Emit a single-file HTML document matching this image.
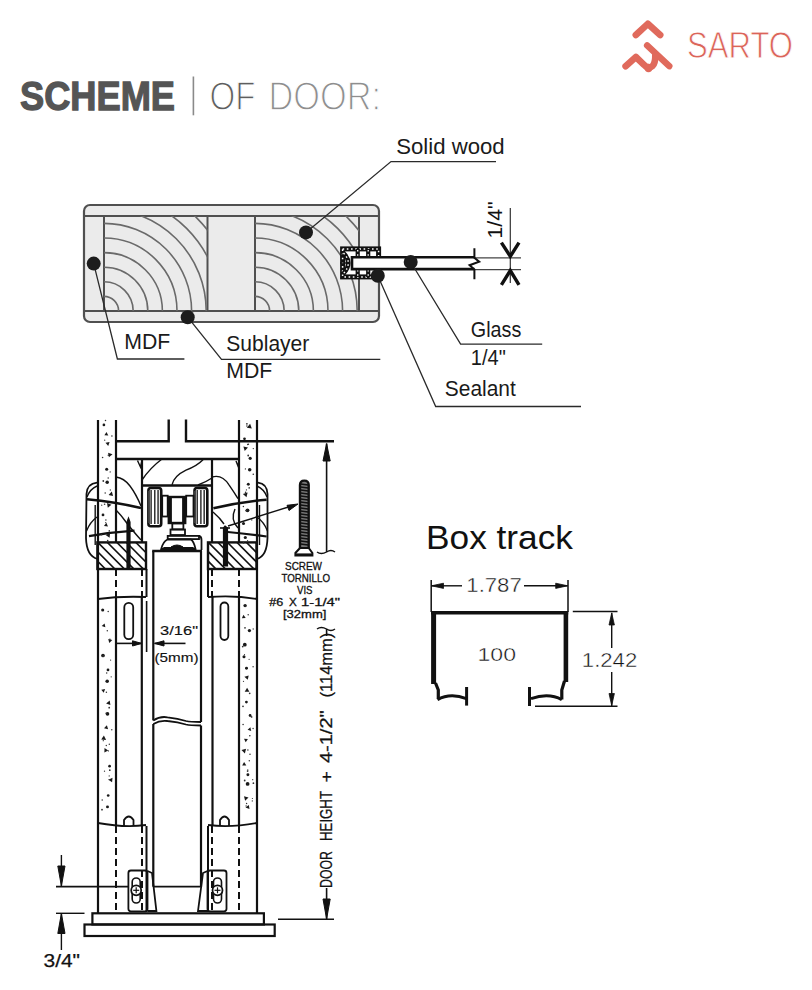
<!DOCTYPE html>
<html><head><meta charset="utf-8">
<style>
html,body{margin:0;padding:0;background:#fff;}
body{width:812px;height:990px;overflow:hidden;position:relative;}
svg{position:absolute;left:0;top:0;font-family:"Liberation Sans", sans-serif;}
</style></head><body>
<svg width="812" height="990" viewBox="0 0 812 990">
<text x="20" y="110.0" font-size="41.2" fill="#555" font-weight="bold" textLength="155" lengthAdjust="spacingAndGlyphs" stroke="#555" stroke-width="1.3">SCHEME</text>
<line x1="193.4" y1="76.5" x2="193.4" y2="115.3" stroke="#8a8a8a" stroke-width="1.6" />
<text x="209.5" y="110.3" font-size="41" fill="#5e5e5e" font-weight="normal" textLength="46" lengthAdjust="spacingAndGlyphs" stroke="#fff" stroke-width="1.3">OF</text>
<text x="268.5" y="110.3" font-size="41" fill="#8e8e8e" font-weight="normal" textLength="112.5" lengthAdjust="spacingAndGlyphs" stroke="#fff" stroke-width="1.3">DOOR:</text>
<path d="M635.8,35 L647.8,23.8 L660.2,35" stroke="#e06a5c" stroke-width="6.6" fill="none" stroke-linecap="round" stroke-linejoin="round"/>
<circle cx="648.5" cy="68" r="4.2" fill="#e06a5c" stroke="none" stroke-width="0"/>
<path d="M625.6,66.2 L635.9,57 L644,64.8 Q648.5,69.5 652.5,66 Q655.5,63 655.3,55" stroke="#e06a5c" stroke-width="6.6" fill="none" stroke-linecap="round" stroke-linejoin="round"/>
<path d="M647.1,45.4 L669.3,66.2" stroke="#e06a5c" stroke-width="6.4" fill="none" stroke-linecap="round" stroke-linejoin="round"/>
<text x="687" y="58.2" font-size="37.5" fill="#db6459" font-weight="normal" textLength="106" lengthAdjust="spacingAndGlyphs" stroke="#fff" stroke-width="0.9">SARTO</text>
<defs><clipPath id="cb1"><rect x="104" y="216" width="103.5" height="95"/></clipPath><clipPath id="cb2"><rect x="255" y="216" width="104" height="95"/></clipPath></defs>
<rect x="84" y="205" width="295" height="117" rx="6" stroke="#505050" stroke-width="2.2" fill="#ebebeb" />
<line x1="84" y1="216" x2="379" y2="216" stroke="#505050" stroke-width="2" />
<line x1="84" y1="311" x2="379" y2="311" stroke="#505050" stroke-width="2" />
<line x1="104" y1="216" x2="104" y2="311" stroke="#505050" stroke-width="2" />
<line x1="207.5" y1="216" x2="207.5" y2="311" stroke="#505050" stroke-width="2" />
<line x1="255" y1="216" x2="255" y2="311" stroke="#505050" stroke-width="2" />
<line x1="359" y1="216" x2="359" y2="311" stroke="#505050" stroke-width="2" />
<g clip-path="url(#cb1)"><path d="M104,296.4 A14.6,14.6 0 0 1 118.6,311" stroke="#6a6a6a" stroke-width="1.6" fill="none"/><path d="M104,281.8 A29.2,29.2 0 0 1 133.2,311" stroke="#6a6a6a" stroke-width="1.6" fill="none"/><path d="M104,267.2 A43.8,43.8 0 0 1 147.8,311" stroke="#6a6a6a" stroke-width="1.6" fill="none"/><path d="M104,252.6 A58.4,58.4 0 0 1 162.4,311" stroke="#6a6a6a" stroke-width="1.6" fill="none"/><path d="M104,238.0 A73.0,73.0 0 0 1 177.0,311" stroke="#6a6a6a" stroke-width="1.6" fill="none"/><path d="M104,223.4 A87.6,87.6 0 0 1 191.6,311" stroke="#6a6a6a" stroke-width="1.6" fill="none"/><path d="M104,208.8 A102.2,102.2 0 0 1 206.2,311" stroke="#6a6a6a" stroke-width="1.6" fill="none"/><path d="M104,194.2 A116.8,116.8 0 0 1 220.8,311" stroke="#6a6a6a" stroke-width="1.6" fill="none"/><path d="M104,179.6 A131.4,131.4 0 0 1 235.4,311" stroke="#6a6a6a" stroke-width="1.6" fill="none"/><path d="M104,165.0 A146.0,146.0 0 0 1 250.0,311" stroke="#6a6a6a" stroke-width="1.6" fill="none"/><path d="M104,150.4 A160.6,160.6 0 0 1 264.6,311" stroke="#6a6a6a" stroke-width="1.6" fill="none"/></g>
<g clip-path="url(#cb2)"><path d="M255,296.4 A14.6,14.6 0 0 1 269.6,311" stroke="#6a6a6a" stroke-width="1.6" fill="none"/><path d="M255,281.8 A29.2,29.2 0 0 1 284.2,311" stroke="#6a6a6a" stroke-width="1.6" fill="none"/><path d="M255,267.2 A43.8,43.8 0 0 1 298.8,311" stroke="#6a6a6a" stroke-width="1.6" fill="none"/><path d="M255,252.6 A58.4,58.4 0 0 1 313.4,311" stroke="#6a6a6a" stroke-width="1.6" fill="none"/><path d="M255,238.0 A73.0,73.0 0 0 1 328.0,311" stroke="#6a6a6a" stroke-width="1.6" fill="none"/><path d="M255,223.4 A87.6,87.6 0 0 1 342.6,311" stroke="#6a6a6a" stroke-width="1.6" fill="none"/><path d="M255,208.8 A102.2,102.2 0 0 1 357.2,311" stroke="#6a6a6a" stroke-width="1.6" fill="none"/><path d="M255,194.2 A116.8,116.8 0 0 1 371.8,311" stroke="#6a6a6a" stroke-width="1.6" fill="none"/><path d="M255,179.6 A131.4,131.4 0 0 1 386.4,311" stroke="#6a6a6a" stroke-width="1.6" fill="none"/><path d="M255,165.0 A146.0,146.0 0 0 1 401.0,311" stroke="#6a6a6a" stroke-width="1.6" fill="none"/><path d="M255,150.4 A160.6,160.6 0 0 1 415.6,311" stroke="#6a6a6a" stroke-width="1.6" fill="none"/></g>
<rect x="342.6" y="248.9" width="36" height="28" rx="0" stroke="#111" stroke-width="5" fill="#fff" />
<rect x="342.6" y="248.9" width="36" height="28" rx="0" stroke="#fff" stroke-width="1.5" fill="none" stroke-dasharray="1.6,2.6"/>
<line x1="357.7" y1="249" x2="357.7" y2="257" stroke="#111" stroke-width="4.2" />
<line x1="357.7" y1="250" x2="357.7" y2="257" stroke="#fff" stroke-width="1.3" stroke-dasharray="1.6,2.6"/>
<line x1="357.7" y1="269" x2="357.7" y2="277" stroke="#111" stroke-width="4.2" />
<line x1="357.7" y1="270" x2="357.7" y2="277" stroke="#fff" stroke-width="1.3" stroke-dasharray="1.6,2.6"/>
<line x1="368.2" y1="249" x2="368.2" y2="257" stroke="#111" stroke-width="4.2" />
<line x1="368.2" y1="250" x2="368.2" y2="257" stroke="#fff" stroke-width="1.3" stroke-dasharray="1.6,2.6"/>
<line x1="368.2" y1="269" x2="368.2" y2="277" stroke="#111" stroke-width="4.2" />
<line x1="368.2" y1="270" x2="368.2" y2="277" stroke="#fff" stroke-width="1.3" stroke-dasharray="1.6,2.6"/>
<path d="M343.5,253 Q353,263 343.5,273.5" stroke="#111" stroke-width="4.5" fill="none" />
<path d="M343.5,253 Q353,263 343.5,273.5" stroke="#fff" stroke-width="1.4" fill="none" stroke-dasharray="1.6,2.6"/>
<line x1="340" y1="263" x2="346" y2="263" stroke="#111" stroke-width="1.4" />
<rect x="352" y="257.3" width="122.2" height="11.8" rx="0" stroke="none" stroke-width="0" fill="#fff" />
<polyline points="474.4,257.3 352,257.3 352,269.1 474.4,269.1" stroke="#111" stroke-width="2.6" fill="none" />
<line x1="474" y1="257.9" x2="521" y2="257.9" stroke="#444" stroke-width="1.2" />
<line x1="474" y1="269.7" x2="521" y2="269.7" stroke="#444" stroke-width="1.2" />
<polyline points="474.4,248.2 474.4,257.7 479.2,261.7 469.6,265.2 474.4,269.5 474.4,279.2" stroke="#111" stroke-width="2" fill="none" />
<line x1="510.3" y1="208" x2="510.3" y2="283" stroke="#333" stroke-width="1.2" />
<polyline points="501.4,242.6 510.3,256.4 519,242.6" stroke="#111" stroke-width="3.4" fill="none" />
<polyline points="501.4,284.8 510.3,270.5 519,284.8" stroke="#111" stroke-width="3.4" fill="none" />
<text x="0" y="0" font-size="21" fill="#111" font-weight="normal" textLength="37" lengthAdjust="spacingAndGlyphs" transform="translate(501.5,238.5) rotate(-90)">1/4&quot;</text>
<polyline points="306,232.4 391,161.6 496,161.6" stroke="#2a2a2a" stroke-width="1.3" fill="none" />
<polyline points="93.7,263.6 117.4,359 184.4,359" stroke="#2a2a2a" stroke-width="1.3" fill="none" />
<polyline points="187.7,317.2 221.5,359.3 380.3,359.3" stroke="#2a2a2a" stroke-width="1.3" fill="none" />
<polyline points="410.7,262 460.6,344.2 542.2,344.2" stroke="#2a2a2a" stroke-width="1.3" fill="none" />
<polyline points="377.8,275.7 435.7,406.5 581,406.5" stroke="#2a2a2a" stroke-width="1.3" fill="none" />
<circle cx="93.7" cy="263.6" r="7" fill="#1c1c1c" stroke="none" stroke-width="0"/>
<circle cx="187.7" cy="317.2" r="7" fill="#1c1c1c" stroke="none" stroke-width="0"/>
<circle cx="306" cy="232.4" r="7" fill="#1c1c1c" stroke="none" stroke-width="0"/>
<circle cx="377.8" cy="275.7" r="7" fill="#1c1c1c" stroke="none" stroke-width="0"/>
<circle cx="410.7" cy="262" r="7" fill="#1c1c1c" stroke="none" stroke-width="0"/>
<text x="396.2" y="153.5" font-size="22.8" fill="#1a1a1a" font-weight="normal" textLength="108.5" lengthAdjust="spacingAndGlyphs" >Solid wood</text>
<text x="124.3" y="349.2" font-size="22.8" fill="#1a1a1a" font-weight="normal" textLength="46" lengthAdjust="spacingAndGlyphs" >MDF</text>
<text x="226.3" y="351.4" font-size="22.8" fill="#1a1a1a" font-weight="normal" textLength="83" lengthAdjust="spacingAndGlyphs" >Sublayer</text>
<text x="226.3" y="377.7" font-size="22.8" fill="#1a1a1a" font-weight="normal" textLength="46" lengthAdjust="spacingAndGlyphs" >MDF</text>
<text x="470.8" y="336.6" font-size="22.8" fill="#1a1a1a" font-weight="normal" textLength="50.5" lengthAdjust="spacingAndGlyphs" >Glass</text>
<text x="470.8" y="365" font-size="22.8" fill="#1a1a1a" font-weight="normal" textLength="35" lengthAdjust="spacingAndGlyphs" >1/4&quot;</text>
<text x="444.8" y="396" font-size="22.8" fill="#1a1a1a" font-weight="normal" textLength="71" lengthAdjust="spacingAndGlyphs" >Sealant</text>
<text x="426" y="548.7" font-size="33.5" fill="#111" font-weight="normal" textLength="147" lengthAdjust="spacingAndGlyphs" >Box track</text>
<line x1="431.2" y1="580" x2="431.2" y2="612" stroke="#111" stroke-width="1.5" />
<line x1="568" y1="580" x2="568" y2="612" stroke="#111" stroke-width="1.5" />
<line x1="431" y1="585.8" x2="462" y2="585.8" stroke="#111" stroke-width="1.4" />
<line x1="524" y1="585.8" x2="567.5" y2="585.8" stroke="#111" stroke-width="1.4" />
<path d="M431.5,585.8 L443.5,583.2 L443.5,588.4 Z" stroke="#111" stroke-width="0.8" fill="#111" />
<path d="M567.7,585.8 L555.7,583.2 L555.7,588.4 Z" stroke="#111" stroke-width="0.8" fill="#111" />
<text x="466.3" y="592" font-size="19.3" fill="#111" font-weight="normal" textLength="55.5" lengthAdjust="spacingAndGlyphs" stroke="#fff" stroke-width="0.4">1.787</text>
<line x1="431" y1="612.8" x2="568.2" y2="612.8" stroke="#111" stroke-width="3.6" />
<line x1="433.6" y1="611" x2="433.6" y2="684" stroke="#111" stroke-width="5" />
<line x1="565.9" y1="611" x2="565.9" y2="682" stroke="#111" stroke-width="4.6" />
<path d="M435.5,683 L438.3,690 L438.3,699" stroke="#111" stroke-width="3.2" fill="none" />
<path d="M564.5,681 L561.8,690 L561.8,699.5" stroke="#111" stroke-width="3.2" fill="none" />
<path d="M437.5,699.8 Q450,692.5 466.4,698.6" stroke="#111" stroke-width="3" fill="none" />
<path d="M561.8,699.8 Q549,692.5 531,698.6" stroke="#111" stroke-width="3" fill="none" />
<line x1="466.6" y1="687" x2="466.6" y2="705.6" stroke="#111" stroke-width="3" />
<line x1="529.5" y1="687" x2="529.5" y2="706" stroke="#111" stroke-width="3" />
<text x="477.5" y="660.7" font-size="19" fill="#111" font-weight="normal" textLength="38.5" lengthAdjust="spacingAndGlyphs" stroke="#fff" stroke-width="0.4">100</text>
<line x1="572.8" y1="611.5" x2="617.5" y2="611.5" stroke="#111" stroke-width="1.5" />
<line x1="535" y1="706.2" x2="617.5" y2="706.2" stroke="#111" stroke-width="1.5" />
<line x1="611.7" y1="612.7" x2="611.7" y2="648" stroke="#111" stroke-width="1.4" />
<line x1="611.7" y1="672" x2="611.7" y2="706" stroke="#111" stroke-width="1.4" />
<path d="M611.7,613 L609,625 L614.4,625 Z" stroke="#111" stroke-width="0.8" fill="#111" />
<path d="M611.7,705.5 L609,693.5 L614.4,693.5 Z" stroke="#111" stroke-width="0.8" fill="#111" />
<text x="581.8" y="667" font-size="19.3" fill="#111" font-weight="normal" textLength="55.5" lengthAdjust="spacingAndGlyphs" stroke="#fff" stroke-width="0.4">1.242</text>
<line x1="98" y1="420" x2="98" y2="913" stroke="#111" stroke-width="2.2" />
<line x1="257" y1="420" x2="257" y2="913" stroke="#111" stroke-width="2.2" />
<line x1="116" y1="420" x2="116" y2="542" stroke="#111" stroke-width="2.2" />
<line x1="239" y1="420" x2="239" y2="542" stroke="#111" stroke-width="2.2" />
<line x1="116" y1="597" x2="116" y2="826" stroke="#111" stroke-width="2.2" />
<line x1="239" y1="597" x2="239" y2="826" stroke="#111" stroke-width="2.2" />
<line x1="116" y1="569" x2="116" y2="597" stroke="#111" stroke-width="2" stroke-dasharray="7,4"/>
<line x1="142" y1="569" x2="142" y2="597" stroke="#111" stroke-width="2" stroke-dasharray="7,4"/>
<line x1="212" y1="569" x2="212" y2="597" stroke="#111" stroke-width="2" stroke-dasharray="7,4"/>
<line x1="239" y1="569" x2="239" y2="597" stroke="#111" stroke-width="2" stroke-dasharray="7,4"/>
<line x1="116" y1="826" x2="116" y2="912" stroke="#111" stroke-width="2" stroke-dasharray="7,4"/>
<line x1="142" y1="826" x2="142" y2="912" stroke="#111" stroke-width="2" stroke-dasharray="7,4"/>
<line x1="212" y1="826" x2="212" y2="912" stroke="#111" stroke-width="2" stroke-dasharray="7,4"/>
<line x1="239" y1="826" x2="239" y2="912" stroke="#111" stroke-width="2" stroke-dasharray="7,4"/>
<line x1="141.8" y1="597" x2="141.8" y2="826" stroke="#111" stroke-width="2.2" />
<line x1="212.5" y1="597" x2="212.5" y2="826" stroke="#111" stroke-width="2.2" />
<line x1="146.5" y1="569" x2="146.5" y2="597" stroke="#111" stroke-width="2" />
<line x1="208" y1="569" x2="208" y2="597" stroke="#111" stroke-width="2" />
<line x1="146.5" y1="826" x2="146.5" y2="912" stroke="#111" stroke-width="2" />
<line x1="208" y1="826" x2="208" y2="912" stroke="#111" stroke-width="2" />
<line x1="146.6" y1="601" x2="146.6" y2="652" stroke="#111" stroke-width="1.6" />
<polyline points="116,441.3 168.7,441.3 168.7,419.6" stroke="#111" stroke-width="2.4" fill="none" />
<polyline points="186,419.6 186,441.3 334,441.3" stroke="#111" stroke-width="2.4" fill="none" />
<line x1="116" y1="459" x2="239" y2="459" stroke="#111" stroke-width="2.4" />
<line x1="142" y1="459" x2="142" y2="542" stroke="#111" stroke-width="2.2" />
<line x1="212" y1="459" x2="212" y2="542" stroke="#111" stroke-width="2.2" />
<line x1="142" y1="485.5" x2="212" y2="485.5" stroke="#111" stroke-width="2.4" />
<defs><clipPath id="hb1"><rect x="97.4" y="542.4" width="48.6" height="26.6"/></clipPath><clipPath id="hb2"><rect x="208" y="542.4" width="48.5" height="26.6"/></clipPath></defs>
<g clip-path="url(#hb1)"><line x1="59.400000000000006" y1="542" x2="87.4" y2="570" stroke="#111" stroke-width="1.6"/><line x1="68.9" y1="542" x2="96.9" y2="570" stroke="#111" stroke-width="1.6"/><line x1="78.4" y1="542" x2="106.4" y2="570" stroke="#111" stroke-width="1.6"/><line x1="87.9" y1="542" x2="115.9" y2="570" stroke="#111" stroke-width="1.6"/><line x1="97.4" y1="542" x2="125.4" y2="570" stroke="#111" stroke-width="1.6"/><line x1="106.9" y1="542" x2="134.9" y2="570" stroke="#111" stroke-width="1.6"/><line x1="116.4" y1="542" x2="144.4" y2="570" stroke="#111" stroke-width="1.6"/><line x1="125.9" y1="542" x2="153.9" y2="570" stroke="#111" stroke-width="1.6"/><line x1="135.4" y1="542" x2="163.4" y2="570" stroke="#111" stroke-width="1.6"/><line x1="144.9" y1="542" x2="172.9" y2="570" stroke="#111" stroke-width="1.6"/><line x1="154.4" y1="542" x2="182.4" y2="570" stroke="#111" stroke-width="1.6"/><line x1="163.9" y1="542" x2="191.9" y2="570" stroke="#111" stroke-width="1.6"/><line x1="173.4" y1="542" x2="201.4" y2="570" stroke="#111" stroke-width="1.6"/><line x1="182.9" y1="542" x2="210.9" y2="570" stroke="#111" stroke-width="1.6"/></g>
<rect x="97.4" y="542.4" width="48.599999999999994" height="26.6" rx="0" stroke="#111" stroke-width="2.4" fill="none" />
<g clip-path="url(#hb2)"><line x1="170.0" y1="542" x2="198.0" y2="570" stroke="#111" stroke-width="1.6"/><line x1="179.5" y1="542" x2="207.5" y2="570" stroke="#111" stroke-width="1.6"/><line x1="189.0" y1="542" x2="217.0" y2="570" stroke="#111" stroke-width="1.6"/><line x1="198.5" y1="542" x2="226.5" y2="570" stroke="#111" stroke-width="1.6"/><line x1="208.0" y1="542" x2="236.0" y2="570" stroke="#111" stroke-width="1.6"/><line x1="217.5" y1="542" x2="245.5" y2="570" stroke="#111" stroke-width="1.6"/><line x1="227.0" y1="542" x2="255.0" y2="570" stroke="#111" stroke-width="1.6"/><line x1="236.5" y1="542" x2="264.5" y2="570" stroke="#111" stroke-width="1.6"/><line x1="246.0" y1="542" x2="274.0" y2="570" stroke="#111" stroke-width="1.6"/><line x1="255.5" y1="542" x2="283.5" y2="570" stroke="#111" stroke-width="1.6"/><line x1="265.0" y1="542" x2="293.0" y2="570" stroke="#111" stroke-width="1.6"/><line x1="274.5" y1="542" x2="302.5" y2="570" stroke="#111" stroke-width="1.6"/><line x1="284.0" y1="542" x2="312.0" y2="570" stroke="#111" stroke-width="1.6"/><line x1="293.5" y1="542" x2="321.5" y2="570" stroke="#111" stroke-width="1.6"/></g>
<rect x="208" y="542.4" width="48.5" height="26.6" rx="0" stroke="#111" stroke-width="2.4" fill="none" />
<path d="M128.5,518 L130,522 L130,568 L127,568 L127,522 Z" stroke="#111" stroke-width="1.2" fill="#111" />
<path d="M225,526 L227.5,528 L227.5,566 L223.5,566 L223.5,528 Z" stroke="#111" stroke-width="1.2" fill="#111" />
<line x1="220" y1="528" x2="230" y2="528" stroke="#111" stroke-width="1.6" />
<path d="M97,482.6 Q87,483.5 86.5,494 L86,538 Q86.5,556 97.5,559" stroke="#111" stroke-width="1.8" fill="none" />
<path d="M87,497 Q90,489 97,486" stroke="#111" stroke-width="1.4" fill="none" />
<path d="M86.5,531 Q90,522 97,517" stroke="#111" stroke-width="1.4" fill="none" />
<line x1="95.2" y1="505" x2="95.2" y2="545" stroke="#111" stroke-width="1.4" />
<path d="M258,482.6 Q267,483.5 267.5,494 L267.5,538 Q267,556 257,559" stroke="#111" stroke-width="1.8" fill="none" />
<path d="M267,497 Q264,489 257,486" stroke="#111" stroke-width="1.4" fill="none" />
<path d="M267.5,531 Q264,522 257,517" stroke="#111" stroke-width="1.4" fill="none" />
<line x1="259.5" y1="505" x2="259.5" y2="545" stroke="#111" stroke-width="1.4" />
<path d="M87,499.3 Q115,502 141,508" stroke="#111" stroke-width="2.6" fill="none" />
<path d="M89,536.2 Q112,532 134.5,530.6" stroke="#111" stroke-width="2.2" fill="none" />
<path d="M213.4,508.3 Q240,502 266.6,499.7" stroke="#111" stroke-width="2.6" fill="none" />
<path d="M227.8,532 Q248,534 266.6,536.5" stroke="#111" stroke-width="2.2" fill="none" />
<path d="M142,480 Q150,468 162,459" stroke="#111" stroke-width="1.4" fill="none" />
<path d="M172,484.8 Q174,476 186,470.2 Q197,466 203,459.8" stroke="#111" stroke-width="1.4" fill="none" />
<path d="M198,485 Q206,482 212,478" stroke="#111" stroke-width="1.4" fill="none" />
<path d="M116,477 Q124,478 130,486 Q136,494 141,506" stroke="#111" stroke-width="1.4" fill="none" />
<path d="M212,477 Q222,474 229,484.8 Q234,492 238,498.6" stroke="#111" stroke-width="1.4" fill="none" />
<path d="M116,510 Q121,515 126,522 Q132,530 141,540" stroke="#111" stroke-width="1.4" fill="none" />
<path d="M213,512 Q220,518 224,524" stroke="#111" stroke-width="1.4" fill="none" />
<path d="M235,509 Q230,520 238,528" stroke="#111" stroke-width="1.4" fill="none" />
<path d="M137.5,460.5 L140.5,467 L142,460.5" stroke="#111" stroke-width="1.4" fill="none" />
<path d="M236,461 L238,466 L239,461" stroke="#111" stroke-width="1.4" fill="none" />
<rect x="148.4" y="488" width="12.799999999999983" height="38.2" rx="2.5" stroke="#111" stroke-width="2.6" fill="none" />
<line x1="151.1" y1="490" x2="151.1" y2="524" stroke="#111" stroke-width="1.3" />
<line x1="154.8" y1="490" x2="154.8" y2="524" stroke="#111" stroke-width="1.3" />
<line x1="158.05599999999998" y1="490" x2="158.05599999999998" y2="524" stroke="#111" stroke-width="1.3" />
<line x1="148.9" y1="491" x2="148.9" y2="523" stroke="#444" stroke-width="1.6" />
<rect x="194.5" y="488" width="12.800000000000011" height="38.2" rx="2.5" stroke="#111" stroke-width="2.6" fill="none" />
<line x1="197.2" y1="490" x2="197.2" y2="524" stroke="#111" stroke-width="1.3" />
<line x1="200.9" y1="490" x2="200.9" y2="524" stroke="#111" stroke-width="1.3" />
<line x1="204.156" y1="490" x2="204.156" y2="524" stroke="#111" stroke-width="1.3" />
<line x1="195.0" y1="491" x2="195.0" y2="523" stroke="#444" stroke-width="1.6" />
<rect x="162.2" y="495.7" width="5.5" height="20.8" rx="0" stroke="#111" stroke-width="1.8" fill="none" />
<rect x="186.2" y="495.7" width="7.3" height="20.8" rx="0" stroke="#111" stroke-width="1.8" fill="none" />
<rect x="168.8" y="497" width="16.4" height="26" rx="0" stroke="#111" stroke-width="2.4" fill="none" />
<line x1="170.5" y1="498" x2="170.5" y2="522" stroke="#111" stroke-width="2.8" />
<line x1="183.5" y1="498" x2="183.5" y2="522" stroke="#111" stroke-width="2.8" />
<rect x="172.3" y="523.4" width="11.1" height="6" rx="0" stroke="#111" stroke-width="1.8" fill="none" />
<rect x="170.5" y="529.5" width="14.5" height="5.5" rx="0" stroke="#111" stroke-width="1.8" fill="none" />
<rect x="167.7" y="535.9" width="31.3" height="3.2" rx="0" stroke="#111" stroke-width="1.8" fill="none" />
<path d="M199,536 Q201.5,536.5 201.5,540 L201.5,550" stroke="#111" stroke-width="1.8" fill="none" />
<path d="M161.2,549 Q163,541.5 167.5,539.5 L191,539.5 Q194,541.5 195.5,549 Z" stroke="#111" stroke-width="1.8" fill="none" />
<rect x="163" y="547" width="31" height="2.6" rx="1.2" stroke="none" stroke-width="0" fill="#111" />
<path d="M171,547 Q177,543 183,547 Z" stroke="#111" stroke-width="1" fill="#111" />
<line x1="153.3" y1="551" x2="153.3" y2="720.4" stroke="#111" stroke-width="2.2" />
<line x1="201" y1="551" x2="201" y2="722" stroke="#111" stroke-width="2.2" />
<line x1="153.3" y1="724" x2="153.3" y2="886.7" stroke="#111" stroke-width="2.2" />
<line x1="201" y1="725.5" x2="201" y2="886.7" stroke="#111" stroke-width="2.2" />
<line x1="152.2" y1="551" x2="202" y2="551" stroke="#111" stroke-width="2.6" />
<path d="M153.3,720.4 Q160,716 167.5,717.3 Q178,718.5 186,721 Q190,722 201,722" stroke="#111" stroke-width="1.8" fill="none" />
<path d="M153.3,724 Q160,720 167.5,721 Q178,722 186,724.5 Q190,725.5 201,725.5" stroke="#111" stroke-width="1.8" fill="none" />
<rect x="124.3" y="602.8" width="8.9" height="36.4" rx="4.4" stroke="#111" stroke-width="1.8" fill="none" />
<rect x="220.5" y="602.5" width="7.8" height="37.5" rx="3.9" stroke="#111" stroke-width="1.8" fill="none" />
<path d="M98,599 Q120,596 146,597" stroke="#111" stroke-width="1.8" fill="none" />
<path d="M208,597 Q235,595 257,599" stroke="#111" stroke-width="1.8" fill="none" />
<path d="M98,823 Q125,828 146,825" stroke="#111" stroke-width="1.8" fill="none" />
<path d="M208,825 Q230,828 257,823" stroke="#111" stroke-width="1.8" fill="none" />
<path d="M124,826 L124,820 Q128.8,813 133.5,820 L133.5,826" stroke="#111" stroke-width="1.8" fill="none" />
<path d="M220,826 L220,820 Q224.5,813 229,820 L229,826" stroke="#111" stroke-width="1.8" fill="none" />
<line x1="116" y1="643.4" x2="141.7" y2="643.4" stroke="#111" stroke-width="1.6" />
<path d="M141.7,643.4 L132.5,640.8 L132.5,646 Z" stroke="#111" stroke-width="1" fill="#111" />
<line x1="154.6" y1="643.4" x2="185.5" y2="643.4" stroke="#111" stroke-width="1.6" />
<path d="M154.6,643.4 L164,640.8 L164,646 Z" stroke="#111" stroke-width="1" fill="#111" />
<text x="160" y="635.3" font-size="13.5" fill="#111" font-weight="normal" textLength="38" lengthAdjust="spacingAndGlyphs" stroke="#111" stroke-width="0.15">3/16&quot;</text>
<text x="154.5" y="661.9" font-size="13.5" fill="#111" font-weight="normal" textLength="44" lengthAdjust="spacingAndGlyphs" stroke="#111" stroke-width="0.15">(5mm)</text>
<line x1="56" y1="886.7" x2="128" y2="886.7" stroke="#111" stroke-width="1.8" />
<line x1="153" y1="886.7" x2="202" y2="886.7" stroke="#111" stroke-width="1.8" />
<rect x="92.4" y="913.3" width="171.5" height="11.2" rx="0" stroke="#111" stroke-width="2.2" fill="none" />
<rect x="84.5" y="924.5" width="190.2" height="11.5" rx="0" stroke="#111" stroke-width="2.2" fill="none" />
<rect x="128.4" y="870.5" width="19.1" height="40.8" rx="2.5" stroke="#111" stroke-width="1.8" fill="none" />
<path d="M147.5,871 L152,873 L156.4,911 L147.5,911" stroke="#111" stroke-width="1.8" fill="none" />
<rect x="207.5" y="870.5" width="19" height="40.8" rx="2.5" stroke="#111" stroke-width="1.8" fill="none" />
<path d="M207.5,871 L203,873 L198,911 L207.5,911" stroke="#111" stroke-width="1.8" fill="none" />
<rect x="132.2" y="878" width="8" height="25" rx="4" stroke="#111" stroke-width="1.6" fill="none" />
<circle cx="136.2" cy="890.3" r="5" fill="#fff" stroke="#111" stroke-width="1.8"/>
<line x1="133.2" y1="890.3" x2="139.2" y2="890.3" stroke="#111" stroke-width="1.2" />
<line x1="136.2" y1="887.3" x2="136.2" y2="893.3" stroke="#111" stroke-width="1.2" />
<rect x="213.5" y="878" width="8" height="25" rx="4" stroke="#111" stroke-width="1.6" fill="none" />
<circle cx="217.5" cy="890.3" r="5" fill="#fff" stroke="#111" stroke-width="1.8"/>
<line x1="214.5" y1="890.3" x2="220.5" y2="890.3" stroke="#111" stroke-width="1.2" />
<line x1="217.5" y1="887.3" x2="217.5" y2="893.3" stroke="#111" stroke-width="1.2" />
<line x1="61.4" y1="855" x2="61.4" y2="886" stroke="#111" stroke-width="1.4" />
<path d="M61.4,886 L57.8,866 L65,866 Z" stroke="#111" stroke-width="1" fill="#111" />
<line x1="56" y1="913.3" x2="84.5" y2="913.3" stroke="#111" stroke-width="1.4" />
<line x1="61.4" y1="913.3" x2="61.4" y2="950" stroke="#111" stroke-width="1.4" />
<path d="M61.4,913.5 L57.8,933.5 L65,933.5 Z" stroke="#111" stroke-width="1" fill="#111" />
<text x="43.5" y="966.5" font-size="17.5" fill="#111" font-weight="normal" textLength="36.5" lengthAdjust="spacingAndGlyphs" stroke="#111" stroke-width="0.25">3/4&quot;</text>
<line x1="326.6" y1="443.6" x2="326.6" y2="552" stroke="#111" stroke-width="1.6" />
<path d="M326.6,443.6 L323,461 L330.2,461 Z" stroke="#111" stroke-width="1" fill="#111" />
<path d="M317,552 Q321,555 326.6,552 Q331,549 335,552" stroke="#111" stroke-width="1.4" fill="none" />
<path d="M317,629 Q321,626 326.6,629 Q331,632 335,629" stroke="#111" stroke-width="1.4" fill="none" />
<line x1="326.6" y1="629" x2="326.6" y2="636" stroke="#111" stroke-width="1.6" />
<line x1="326.6" y1="888" x2="326.6" y2="919" stroke="#111" stroke-width="1.6" />
<path d="M326.6,919 L323,899 L330.2,899 Z" stroke="#111" stroke-width="1" fill="#111" />
<line x1="278" y1="919.2" x2="334" y2="919.2" stroke="#111" stroke-width="1.6" />
<text x="0" y="0" font-size="16" fill="#111" font-weight="normal" textLength="37" lengthAdjust="spacingAndGlyphs" stroke="#111" stroke-width="0.25" transform="translate(331.8,888) rotate(-90)">DOOR</text>
<text x="0" y="0" font-size="16" fill="#111" font-weight="normal" textLength="50" lengthAdjust="spacingAndGlyphs" stroke="#111" stroke-width="0.25" transform="translate(331.8,841) rotate(-90)">HEIGHT</text>
<text x="0" y="0" font-size="16" fill="#111" font-weight="normal" textLength="11.4" lengthAdjust="spacingAndGlyphs" stroke="#111" stroke-width="0.25" transform="translate(331.8,782.6) rotate(-90)">+</text>
<text x="0" y="0" font-size="16" fill="#111" font-weight="normal" textLength="52.6" lengthAdjust="spacingAndGlyphs" stroke="#111" stroke-width="0.25" transform="translate(331.8,763) rotate(-90)">4-1/2&quot;</text>
<text x="0" y="0" font-size="16" fill="#111" font-weight="normal" textLength="64.8" lengthAdjust="spacingAndGlyphs" stroke="#111" stroke-width="0.25" transform="translate(331.8,697.5) rotate(-90)">(114mm)</text>
<path d="M300,548 L300,485 Q300,480.6 304.3,480.6 Q308.7,480.6 308.7,485 L308.7,548" stroke="#111" stroke-width="2.4" fill="#777" />
<line x1="300.5" y1="484" x2="308.2" y2="485" stroke="#111" stroke-width="1.5" />
<line x1="300.5" y1="487" x2="308.2" y2="488" stroke="#111" stroke-width="1.5" />
<line x1="300.5" y1="490" x2="308.2" y2="491" stroke="#111" stroke-width="1.5" />
<line x1="300.5" y1="493" x2="308.2" y2="494" stroke="#111" stroke-width="1.5" />
<line x1="300.5" y1="496" x2="308.2" y2="497" stroke="#111" stroke-width="1.5" />
<line x1="300.5" y1="499" x2="308.2" y2="500" stroke="#111" stroke-width="1.5" />
<line x1="300.5" y1="502" x2="308.2" y2="503" stroke="#111" stroke-width="1.5" />
<line x1="300.5" y1="505" x2="308.2" y2="506" stroke="#111" stroke-width="1.5" />
<line x1="300.5" y1="508" x2="308.2" y2="509" stroke="#111" stroke-width="1.5" />
<line x1="300.5" y1="511" x2="308.2" y2="512" stroke="#111" stroke-width="1.5" />
<line x1="300.5" y1="514" x2="308.2" y2="515" stroke="#111" stroke-width="1.5" />
<line x1="300.5" y1="517" x2="308.2" y2="518" stroke="#111" stroke-width="1.5" />
<line x1="300.5" y1="520" x2="308.2" y2="521" stroke="#111" stroke-width="1.5" />
<line x1="300.5" y1="523" x2="308.2" y2="524" stroke="#111" stroke-width="1.5" />
<line x1="300.5" y1="526" x2="308.2" y2="527" stroke="#111" stroke-width="1.5" />
<line x1="300.5" y1="529" x2="308.2" y2="530" stroke="#111" stroke-width="1.5" />
<line x1="300.5" y1="532" x2="308.2" y2="533" stroke="#111" stroke-width="1.5" />
<line x1="300.5" y1="535" x2="308.2" y2="536" stroke="#111" stroke-width="1.5" />
<line x1="300.5" y1="538" x2="308.2" y2="539" stroke="#111" stroke-width="1.5" />
<line x1="300.5" y1="541" x2="308.2" y2="542" stroke="#111" stroke-width="1.5" />
<line x1="300.5" y1="544" x2="308.2" y2="545" stroke="#111" stroke-width="1.5" />
<path d="M300,548 L295.4,553 L295.4,555.5 L312.4,555.5 L312.4,553 L308.7,548 Z" stroke="#111" stroke-width="2" fill="#fff" />
<line x1="296" y1="554.5" x2="312" y2="554.5" stroke="#111" stroke-width="2.2" />
<line x1="228" y1="526" x2="290" y2="506.5" stroke="#111" stroke-width="1.4" />
<path d="M298,504 L287,505.3 L289,510.5 Z" stroke="#111" stroke-width="1" fill="#111" />
<text x="285" y="569.5" font-size="10.8" fill="#111" font-weight="normal" textLength="37" lengthAdjust="spacingAndGlyphs" stroke="#111" stroke-width="0.3">SCREW</text>
<text x="281.4" y="582" font-size="10.8" fill="#111" font-weight="normal" textLength="48.6" lengthAdjust="spacingAndGlyphs" stroke="#111" stroke-width="0.3">TORNILLO</text>
<text x="297" y="593.9" font-size="10.8" fill="#111" font-weight="normal" textLength="15.5" lengthAdjust="spacingAndGlyphs" stroke="#111" stroke-width="0.3">VIS</text>
<text x="269.2" y="605.7" font-size="10.8" fill="#111" font-weight="normal" textLength="14" lengthAdjust="spacingAndGlyphs" stroke="#111" stroke-width="0.3">#6</text>
<text x="289" y="605.7" font-size="10.8" fill="#111" font-weight="normal" textLength="7.8" lengthAdjust="spacingAndGlyphs" stroke="#111" stroke-width="0.3">X</text>
<text x="301" y="605.7" font-size="10.8" fill="#111" font-weight="normal" textLength="39" lengthAdjust="spacingAndGlyphs" stroke="#111" stroke-width="0.3">1-1/4&quot;</text>
<text x="283" y="617.5" font-size="10.8" fill="#111" font-weight="normal" textLength="43.4" lengthAdjust="spacingAndGlyphs" stroke="#111" stroke-width="0.3">[32mm]</text>
<circle cx="103.9" cy="424.9" r="1.3434617720005257" fill="#1a1a1a" stroke="none" stroke-width="0"/>
<circle cx="105.5" cy="420.6" r="0.7522307199568261" fill="#333" stroke="none" stroke-width="0"/>
<polygon points="104.4,435.2 106.5,431.9 108.3,435.4" fill="#1a1a1a"/>
<circle cx="111.9" cy="436.1" r="0.7748990713381222" fill="#333" stroke="none" stroke-width="0"/>
<polygon points="105.5,442.8 109.6,442.1 108.2,446.0" fill="#1a1a1a"/>
<circle cx="104.7" cy="440.2" r="0.6353376714235105" fill="#333" stroke="none" stroke-width="0"/>
<polygon points="108.1,452.8 112.5,454.3 108.9,457.3" fill="#1a1a1a"/>
<circle cx="102.6" cy="457.6" r="0.769310487940016" fill="#333" stroke="none" stroke-width="0"/>
<circle cx="108.3" cy="455.3" r="0.7595160739740557" fill="#333" stroke="none" stroke-width="0"/>
<circle cx="106.7" cy="469.2" r="1.5169494135667398" fill="#1a1a1a" stroke="none" stroke-width="0"/>
<circle cx="110.2" cy="471.9" r="0.6732289532166459" fill="#333" stroke="none" stroke-width="0"/>
<circle cx="107.2" cy="482.3" r="1.7376671736635305" fill="#1a1a1a" stroke="none" stroke-width="0"/>
<circle cx="108.2" cy="478.1" r="0.7535798491942647" fill="#333" stroke="none" stroke-width="0"/>
<circle cx="103.3" cy="481.0" r="0.8799810636541913" fill="#333" stroke="none" stroke-width="0"/>
<polygon points="111.8,491.6 113.1,496.0 108.6,494.9" fill="#1a1a1a"/>
<circle cx="105.2" cy="493.1" r="0.7490024385896963" fill="#333" stroke="none" stroke-width="0"/>
<circle cx="110.3" cy="490.0" r="0.6280787988260711" fill="#333" stroke="none" stroke-width="0"/>
<polygon points="107.8,507.7 107.0,502.9 111.5,504.7" fill="#1a1a1a"/>
<circle cx="104.6" cy="504.3" r="0.8005958147652564" fill="#333" stroke="none" stroke-width="0"/>
<circle cx="101.7" cy="505.2" r="0.6504145136719633" fill="#333" stroke="none" stroke-width="0"/>
<circle cx="103.0" cy="514.9" r="1.3776041332112106" fill="#1a1a1a" stroke="none" stroke-width="0"/>
<circle cx="105.9" cy="520.0" r="0.7489520097089886" fill="#333" stroke="none" stroke-width="0"/>
<polygon points="104.0,526.1 106.3,522.8 108.0,526.4" fill="#1a1a1a"/>
<circle cx="109.3" cy="530.9" r="0.8048169178162354" fill="#333" stroke="none" stroke-width="0"/>
<circle cx="105.7" cy="522.6" r="0.6248954083983996" fill="#333" stroke="none" stroke-width="0"/>
<polygon points="109.6,537.8 105.6,534.9 110.1,532.8" fill="#1a1a1a"/>
<circle cx="101.5" cy="534.8" r="0.7107760718684176" fill="#333" stroke="none" stroke-width="0"/>
<circle cx="107.7" cy="540.6" r="0.8071480971407934" fill="#333" stroke="none" stroke-width="0"/>
<polygon points="250.1,423.8 251.8,428.6 246.8,427.7" fill="#1a1a1a"/>
<circle cx="246.9" cy="426.0" r="0.7444568454495584" fill="#333" stroke="none" stroke-width="0"/>
<circle cx="246.9" cy="423.8" r="0.8954002802269828" fill="#333" stroke="none" stroke-width="0"/>
<circle cx="244.5" cy="438.8" r="1.3614277586351333" fill="#1a1a1a" stroke="none" stroke-width="0"/>
<circle cx="248.4" cy="444.2" r="0.7841211788926293" fill="#333" stroke="none" stroke-width="0"/>
<polygon points="248.0,447.5 244.7,450.9 243.4,446.4" fill="#1a1a1a"/>
<circle cx="247.7" cy="444.6" r="0.7464204177106233" fill="#333" stroke="none" stroke-width="0"/>
<circle cx="253.3" cy="448.6" r="0.6935556942654058" fill="#333" stroke="none" stroke-width="0"/>
<circle cx="250.2" cy="458.3" r="1.5871731661059947" fill="#1a1a1a" stroke="none" stroke-width="0"/>
<circle cx="248.2" cy="455.5" r="0.8856062841301949" fill="#333" stroke="none" stroke-width="0"/>
<circle cx="249.7" cy="469.8" r="1.7548857757215623" fill="#1a1a1a" stroke="none" stroke-width="0"/>
<circle cx="253.3" cy="474.3" r="0.8088590357723406" fill="#333" stroke="none" stroke-width="0"/>
<circle cx="245.4" cy="468.9" r="0.6501126103603009" fill="#333" stroke="none" stroke-width="0"/>
<circle cx="248.3" cy="484.2" r="1.4977989970286574" fill="#1a1a1a" stroke="none" stroke-width="0"/>
<circle cx="249.2" cy="487.9" r="0.82749672722659" fill="#333" stroke="none" stroke-width="0"/>
<polygon points="246.5,497.3 242.9,494.0 247.6,492.5" fill="#1a1a1a"/>
<circle cx="246.4" cy="489.9" r="0.6083811226266194" fill="#333" stroke="none" stroke-width="0"/>
<circle cx="245.6" cy="492.4" r="0.807756582510037" fill="#333" stroke="none" stroke-width="0"/>
<circle cx="247.5" cy="510.3" r="1.892822834921716" fill="#1a1a1a" stroke="none" stroke-width="0"/>
<circle cx="243.4" cy="506.4" r="0.7410239946768571" fill="#333" stroke="none" stroke-width="0"/>
<circle cx="246.2" cy="510.6" r="0.8955746991194227" fill="#333" stroke="none" stroke-width="0"/>
<circle cx="243.5" cy="523.6" r="1.5064041411860751" fill="#1a1a1a" stroke="none" stroke-width="0"/>
<circle cx="251.7" cy="519.9" r="0.7165607231459831" fill="#333" stroke="none" stroke-width="0"/>
<circle cx="245.3" cy="537.5" r="1.560355045448849" fill="#1a1a1a" stroke="none" stroke-width="0"/>
<circle cx="243.5" cy="542.9" r="0.816547419270512" fill="#333" stroke="none" stroke-width="0"/>
<circle cx="247.6" cy="540.7" r="0.6254757748353451" fill="#333" stroke="none" stroke-width="0"/>
<circle cx="102.7" cy="610.0" r="1.5792123294167308" fill="#1a1a1a" stroke="none" stroke-width="0"/>
<circle cx="108.2" cy="611.5" r="0.7423070795623994" fill="#333" stroke="none" stroke-width="0"/>
<polygon points="104.6,623.4 105.4,627.2 101.7,626.0" fill="#1a1a1a"/>
<circle cx="107.3" cy="630.8" r="0.7301428310272456" fill="#333" stroke="none" stroke-width="0"/>
<polygon points="109.3,642.9 108.2,638.9 112.3,640.0" fill="#1a1a1a"/>
<circle cx="109.9" cy="639.2" r="0.7633058296568972" fill="#333" stroke="none" stroke-width="0"/>
<circle cx="103.0" cy="655.5" r="1.838622400722627" fill="#1a1a1a" stroke="none" stroke-width="0"/>
<circle cx="110.6" cy="660.1" r="0.6392289777066371" fill="#333" stroke="none" stroke-width="0"/>
<circle cx="103.2" cy="656.1" r="0.8618416796031405" fill="#333" stroke="none" stroke-width="0"/>
<circle cx="108.0" cy="669.9" r="1.3898814909414055" fill="#1a1a1a" stroke="none" stroke-width="0"/>
<circle cx="106.7" cy="672.9" r="0.766942687470664" fill="#333" stroke="none" stroke-width="0"/>
<circle cx="107.2" cy="681.2" r="1.7705634852192853" fill="#1a1a1a" stroke="none" stroke-width="0"/>
<circle cx="111.2" cy="676.8" r="0.6573918393483394" fill="#333" stroke="none" stroke-width="0"/>
<polygon points="105.1,689.1 103.7,692.7 101.3,689.7" fill="#1a1a1a"/>
<circle cx="106.4" cy="692.2" r="0.7516659392553665" fill="#333" stroke="none" stroke-width="0"/>
<polygon points="106.1,703.4 109.7,700.6 110.4,705.1" fill="#1a1a1a"/>
<circle cx="109.2" cy="707.7" r="0.8826541764910727" fill="#333" stroke="none" stroke-width="0"/>
<circle cx="107.5" cy="713.9" r="1.8039998700359234" fill="#1a1a1a" stroke="none" stroke-width="0"/>
<circle cx="106.1" cy="713.2" r="0.6947939382624911" fill="#333" stroke="none" stroke-width="0"/>
<polygon points="108.1,729.3 104.0,728.2 106.9,725.2" fill="#1a1a1a"/>
<circle cx="111.8" cy="729.7" r="0.7098549868382044" fill="#333" stroke="none" stroke-width="0"/>
<polygon points="106.1,739.9 101.2,739.6 103.9,735.6" fill="#1a1a1a"/>
<circle cx="103.3" cy="740.7" r="0.6671136509510861" fill="#333" stroke="none" stroke-width="0"/>
<circle cx="109.3" cy="744.3" r="0.7211429253349814" fill="#333" stroke="none" stroke-width="0"/>
<polygon points="104.4,752.4 104.5,748.1 108.2,750.4" fill="#1a1a1a"/>
<circle cx="106.3" cy="745.5" r="0.6994493667425972" fill="#333" stroke="none" stroke-width="0"/>
<circle cx="108.4" cy="750.9" r="0.6192872377772255" fill="#333" stroke="none" stroke-width="0"/>
<circle cx="109.6" cy="766.2" r="1.362867756563699" fill="#1a1a1a" stroke="none" stroke-width="0"/>
<circle cx="104.5" cy="771.2" r="0.6544654174233513" fill="#333" stroke="none" stroke-width="0"/>
<circle cx="109.8" cy="770.2" r="0.8548763481782685" fill="#333" stroke="none" stroke-width="0"/>
<polygon points="108.4,779.7 112.5,777.8 112.1,782.3" fill="#1a1a1a"/>
<circle cx="109.2" cy="775.9" r="0.6172579537322839" fill="#333" stroke="none" stroke-width="0"/>
<circle cx="109.1" cy="779.6" r="0.6217242284169572" fill="#333" stroke="none" stroke-width="0"/>
<circle cx="108.2" cy="795.5" r="1.350245515740711" fill="#1a1a1a" stroke="none" stroke-width="0"/>
<circle cx="102.2" cy="800.0" r="0.7361320562918775" fill="#333" stroke="none" stroke-width="0"/>
<circle cx="107.5" cy="806.9" r="1.4607158480064726" fill="#1a1a1a" stroke="none" stroke-width="0"/>
<circle cx="102.0" cy="809.7" r="0.8814377749922532" fill="#333" stroke="none" stroke-width="0"/>
<circle cx="245.1" cy="605.6" r="1.6772026582286002" fill="#1a1a1a" stroke="none" stroke-width="0"/>
<circle cx="245.7" cy="606.1" r="0.6533699652638786" fill="#333" stroke="none" stroke-width="0"/>
<polygon points="243.4,614.8 245.7,617.9 241.9,618.3" fill="#1a1a1a"/>
<circle cx="248.2" cy="614.7" r="0.734116664766404" fill="#333" stroke="none" stroke-width="0"/>
<circle cx="249.4" cy="630.6" r="1.6275437511560944" fill="#1a1a1a" stroke="none" stroke-width="0"/>
<circle cx="253.2" cy="629.0" r="0.6645543358827544" fill="#333" stroke="none" stroke-width="0"/>
<circle cx="245.0" cy="627.8" r="0.8645784386397721" fill="#333" stroke="none" stroke-width="0"/>
<circle cx="244.8" cy="644.7" r="1.88912915909762" fill="#1a1a1a" stroke="none" stroke-width="0"/>
<circle cx="242.7" cy="646.6" r="0.8639562813690168" fill="#333" stroke="none" stroke-width="0"/>
<circle cx="244.0" cy="656.7" r="1.5285290712291202" fill="#1a1a1a" stroke="none" stroke-width="0"/>
<circle cx="249.1" cy="659.3" r="0.6135712477403572" fill="#333" stroke="none" stroke-width="0"/>
<circle cx="244.5" cy="654.7" r="0.6010868137998351" fill="#333" stroke="none" stroke-width="0"/>
<circle cx="246.5" cy="668.3" r="1.4941203366716793" fill="#1a1a1a" stroke="none" stroke-width="0"/>
<circle cx="253.1" cy="666.7" r="0.7069751751041962" fill="#333" stroke="none" stroke-width="0"/>
<polygon points="247.7,679.8 244.4,676.7 248.7,675.4" fill="#1a1a1a"/>
<circle cx="243.5" cy="681.3" r="0.6431595423806707" fill="#333" stroke="none" stroke-width="0"/>
<polygon points="249.4,691.8 244.7,691.7 247.1,687.7" fill="#1a1a1a"/>
<circle cx="249.7" cy="693.3" r="0.863727208070217" fill="#333" stroke="none" stroke-width="0"/>
<circle cx="246.4" cy="702.1" r="1.3896778894253519" fill="#1a1a1a" stroke="none" stroke-width="0"/>
<circle cx="243.0" cy="706.3" r="0.8675827067635533" fill="#333" stroke="none" stroke-width="0"/>
<circle cx="250.1" cy="715.5" r="1.3835845660115227" fill="#1a1a1a" stroke="none" stroke-width="0"/>
<circle cx="251.6" cy="716.9" r="0.8678489209216523" fill="#333" stroke="none" stroke-width="0"/>
<polygon points="251.2,730.9 247.6,729.8 250.4,727.2" fill="#1a1a1a"/>
<circle cx="253.1" cy="728.4" r="0.7354158540633184" fill="#333" stroke="none" stroke-width="0"/>
<circle cx="243.1" cy="724.5" r="0.7594331518128459" fill="#333" stroke="none" stroke-width="0"/>
<polygon points="247.9,739.1 245.7,742.2 244.0,738.7" fill="#1a1a1a"/>
<circle cx="249.8" cy="735.7" r="0.8210364985626751" fill="#333" stroke="none" stroke-width="0"/>
<polygon points="244.9,753.4 241.5,750.1 246.1,748.8" fill="#1a1a1a"/>
<circle cx="247.9" cy="750.0" r="0.7437030492211878" fill="#333" stroke="none" stroke-width="0"/>
<circle cx="250.0" cy="754.2" r="0.785092204733475" fill="#333" stroke="none" stroke-width="0"/>
<polygon points="244.1,761.9 246.3,765.4 242.2,765.6" fill="#1a1a1a"/>
<circle cx="249.3" cy="760.7" r="0.7447262094780676" fill="#333" stroke="none" stroke-width="0"/>
<circle cx="247.8" cy="770.0" r="0.6298557215009298" fill="#333" stroke="none" stroke-width="0"/>
<circle cx="247.9" cy="774.8" r="1.4713261252552101" fill="#1a1a1a" stroke="none" stroke-width="0"/>
<circle cx="247.6" cy="771.1" r="0.8680988778525811" fill="#333" stroke="none" stroke-width="0"/>
<circle cx="244.7" cy="780.5" r="0.880876302286115" fill="#333" stroke="none" stroke-width="0"/>
<circle cx="247.6" cy="783.9" r="1.8808649509904196" fill="#1a1a1a" stroke="none" stroke-width="0"/>
<circle cx="253.4" cy="783.2" r="0.8749664335226728" fill="#333" stroke="none" stroke-width="0"/>
<circle cx="252.7" cy="779.7" r="0.6270909282753035" fill="#333" stroke="none" stroke-width="0"/>
<polygon points="244.0,796.2 248.5,797.6 245.1,800.7" fill="#1a1a1a"/>
<circle cx="252.3" cy="800.9" r="0.6694150809151409" fill="#333" stroke="none" stroke-width="0"/>
<circle cx="252.4" cy="798.5" r="0.6074503209271995" fill="#333" stroke="none" stroke-width="0"/>
<polygon points="249.5,809.1 245.5,807.6 248.8,804.9" fill="#1a1a1a"/>
<circle cx="246.6" cy="803.5" r="0.6993973083833039" fill="#333" stroke="none" stroke-width="0"/>
<circle cx="246.1" cy="805.9" r="0.7194778676033944" fill="#333" stroke="none" stroke-width="0"/>
</svg>
</body></html>
